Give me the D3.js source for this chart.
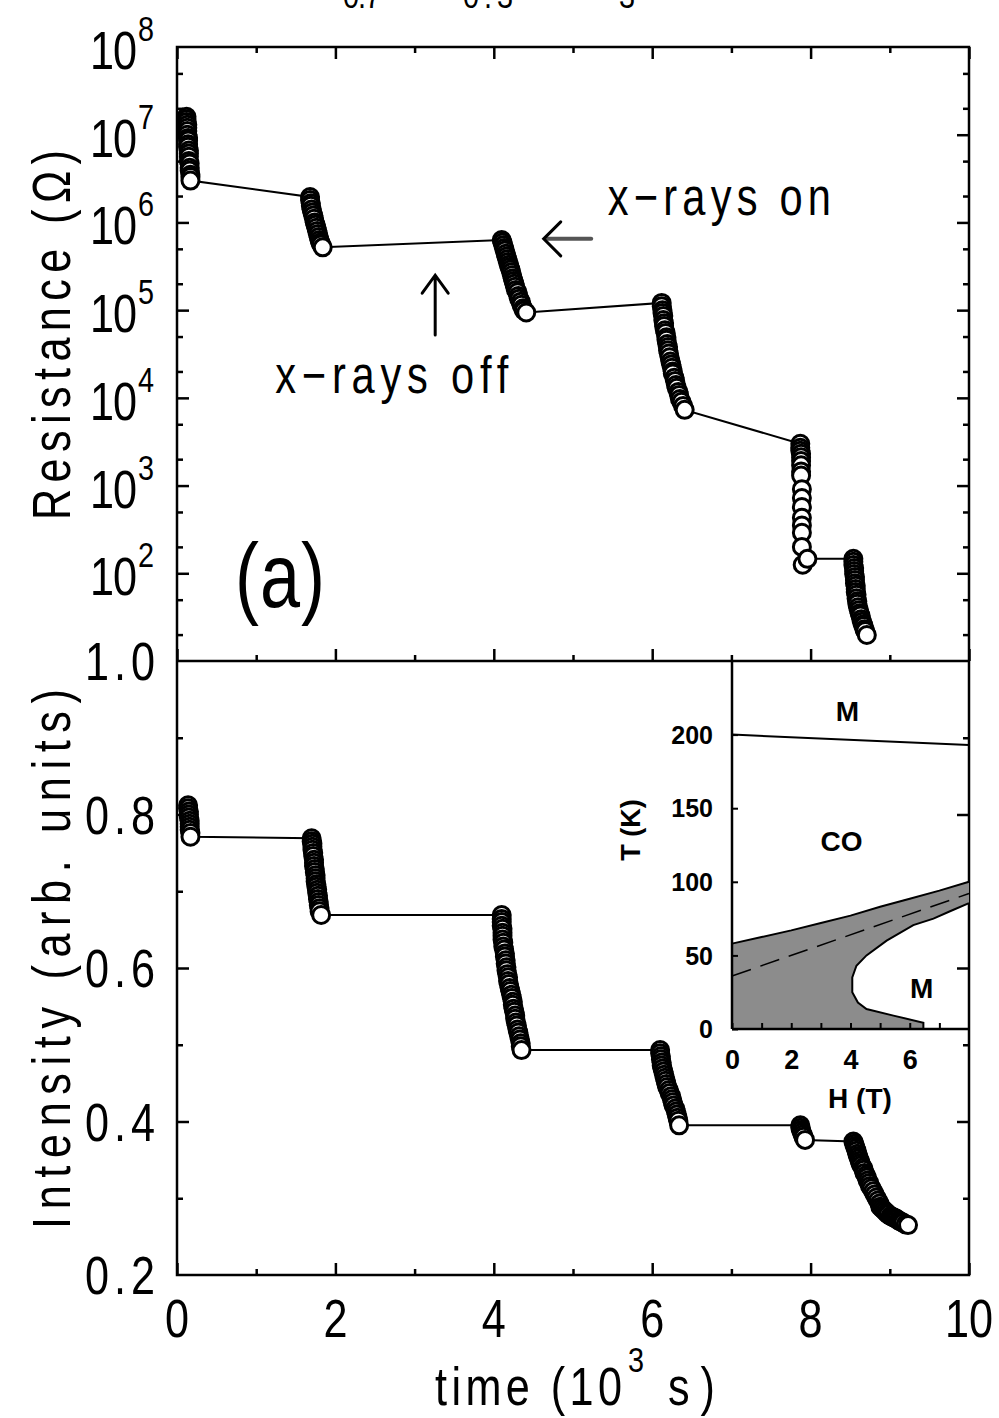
<!DOCTYPE html>
<html>
<head>
<meta charset="utf-8">
<script src="https://d3js.org/d3.v7.min.js"></script>
<style>
body { margin: 0; background: #fff; }
text { font-family: "Liberation Sans", Arial, sans-serif; fill: #000; }
</style>
</head>
<body>
<svg width="999" height="1418"></svg>
<script>

// resistance vs time (10^3 s, ohm)
const resTime = [
 0.12,0.12,0.12,0.13,0.13,0.13,0.13,0.14,0.14,0.14,0.14,0.15,0.15,0.15,0.15,0.16,0.16,0.16,0.17,0.17,0.17,
 1.68,1.68,1.69,1.69,1.70,1.71,1.72,1.73,1.74,1.75,1.76,1.77,1.78,1.79,1.80,1.81,1.82,1.84,
 4.10,4.11,4.12,4.13,4.14,4.15,4.16,4.17,4.18,4.19,4.20,4.21,4.22,4.23,4.24,4.25,4.26,4.27,4.28,4.30,4.31,4.32,4.34,4.35,4.37,4.38,4.41,
 6.12,6.12,6.13,6.13,6.14,6.14,6.15,6.15,6.16,6.17,6.18,6.18,6.19,6.20,6.20,6.21,6.22,6.23,6.24,6.25,6.26,6.26,6.28,6.29,6.30,6.31,6.33,6.34,6.35,6.37,6.39,6.41,
 7.87,7.87,7.87,7.88,7.88,7.88,7.88,7.88,7.88,7.89,7.89,7.89,7.89,7.89,7.89,7.89,7.90,7.96,
 8.54,8.54,8.54,8.55,8.55,8.55,8.56,8.56,8.56,8.57,8.57,8.57,8.58,8.58,8.59,8.59,8.60,8.61,8.62,8.63,8.64,8.65,8.66,8.67,8.68,8.69,8.71
];
const resOhm = [
 1.6e7,1.5e7,1.4e7,1.3e7,1.2e7,1.1e7,1.0e7,9.2e6,8.6e6,7.8e6,7.3e6,6.6e6,6.1e6,5.6e6,5.0e6,4.7e6,4.2e6,3.9e6,3.5e6,3.3e6,3.0e6,
 1.95e6,1.8e6,1.65e6,1.55e6,1.4e6,1.3e6,1.2e6,1.1e6,1.0e6,9.4e5,8.7e5,8.0e5,7.4e5,6.8e5,6.3e5,5.9e5,5.6e5,5.2e5,
 6.3e5,5.9e5,5.5e5,5.1e5,4.8e5,4.4e5,4.1e5,3.8e5,3.55e5,3.3e5,3.1e5,2.9e5,2.7e5,2.5e5,2.3e5,2.15e5,2.0e5,1.85e5,1.7e5,1.6e5,1.45e5,1.35e5,1.25e5,1.15e5,1.05e5,9.9e4,9.4e4,
 1.21e5,1.11e5,1.0e5,9.3e4,8.6e4,7.7e4,7.1e4,6.6e4,5.9e4,5.5e4,4.9e4,4.6e4,4.1e4,3.8e4,3.5e4,3.2e4,2.9e4,2.6e4,2.4e4,2.2e4,2.0e4,1.9e4,1.7e4,1.56e4,1.4e4,1.3e4,1.17e4,1.08e4,9.7e3,9.0e3,8.1e3,7.3e3,
 3.0e3,2.7e3,2.5e3,2.3e3,2.1e3,1.9e3,1.7e3,1.45e3,1.3e3,910,720,570,430,350,290,200,125,146,
 146,135,124,115,106,98,91,84,77,72,66,61,57,52,48,45,41,38,35,33,30,28,26,25,23,22,19.8
];

// x-ray intensity vs time (arb. units)
const intTime = [
 0.14,0.14,0.15,0.15,0.15,0.16,0.16,0.16,0.16,0.17,0.17,
 1.70,1.70,1.71,1.71,1.71,1.72,1.72,1.73,1.73,1.73,1.74,1.74,1.75,1.75,1.75,1.76,1.76,1.77,1.77,1.78,1.78,1.79,1.79,1.80,1.80,1.82,
 4.10,4.10,4.10,4.10,4.11,4.11,4.11,4.11,4.12,4.12,4.13,4.14,4.14,4.15,4.15,4.16,4.16,4.17,4.18,4.18,4.19,4.20,4.21,4.22,4.23,4.24,4.24,4.25,4.26,4.27,4.27,4.28,4.29,4.30,4.31,4.32,4.33,4.34,4.34,4.35,
 6.10,6.10,6.11,6.11,6.12,6.12,6.13,6.14,6.15,6.16,6.17,6.18,6.19,6.21,6.22,6.24,6.25,6.26,6.27,6.29,6.30,6.31,6.32,6.33,6.34,
 7.87,7.87,7.88,7.89,7.90,7.91,7.93,
 8.54,8.55,8.56,8.57,8.58,8.59,8.60,8.61,8.62,8.63,8.64,8.66,8.67,8.68,8.70,8.71,8.72,8.74,8.75,8.77,8.79,8.81,8.83,8.85,8.87,8.88,8.90,8.92,8.94,8.96,8.98,9.01,9.03,9.05,9.07,9.09,9.11,9.13,9.15,9.17,9.20,9.23
];
const intValue = [
 0.812,0.808,0.804,0.800,0.796,0.792,0.788,0.784,0.780,0.776,0.771,
 0.769,0.765,0.762,0.758,0.754,0.750,0.746,0.741,0.737,0.733,0.729,0.725,0.721,0.717,0.713,0.709,0.706,0.702,0.698,0.694,0.690,0.686,0.682,0.678,0.674,0.669,
 0.669,0.664,0.660,0.655,0.651,0.646,0.642,0.637,0.633,0.628,0.624,0.619,0.615,0.610,0.606,0.601,0.597,0.592,0.588,0.583,0.579,0.574,0.570,0.565,0.561,0.556,0.552,0.547,0.543,0.538,0.534,0.529,0.525,0.520,0.516,0.511,0.507,0.502,0.498,0.493,
 0.493,0.489,0.485,0.481,0.477,0.473,0.469,0.465,0.461,0.457,0.453,0.449,0.445,0.441,0.437,0.433,0.429,0.425,0.421,0.417,0.413,0.409,0.405,0.401,0.395,
 0.395,0.392,0.389,0.386,0.383,0.380,0.376,
 0.374,0.371,0.368,0.365,0.362,0.358,0.355,0.352,0.349,0.346,0.343,0.340,0.337,0.333,0.330,0.327,0.323,0.320,0.316,0.313,0.309,0.305,0.301,0.297,0.293,0.289,0.287,0.285,0.283,0.281,0.279,0.277,0.276,0.275,0.274,0.273,0.271,0.270,0.269,0.268,0.266,0.265
];

// inset phase diagram, H (T) vs T (K)
const topLineH = [0, 8], topLineT = [200, 193];
const upperH = [0, 1, 2, 3, 4, 5, 6, 7, 8];
const upperT = [58, 62.5, 67, 72, 77, 83, 88.5, 94, 100];
const lowerH = [8, 7.36, 6.8, 6.12, 5.22, 4.54, 4.2, 4.06, 4.06, 4.25, 4.54, 5.45, 6.46, 6.46];
const lowerT = [85.5, 80, 75, 70.6, 60, 50, 43, 35, 25, 18, 13.6, 9.1, 4.3, 0];
const dashH = [0, 8], dashT = [36, 92];
const insetLabels = [{t: 'M', h: 3.9, k: 216}, {t: 'CO', h: 3.7, k: 128}, {t: 'M', h: 6.4, k: 28}];

const xTicks = [0, 2, 4, 6, 8, 10];
const resTicks = [2, 3, 4, 5, 6, 7, 8];
const intTicks = [0.2, 0.4, 0.6, 0.8, 1.0];

const svg = d3.select('svg');

const x = d3.scaleLinear().domain([0, 10]).range([177, 969]);
const yR = d3.scaleLog().domain([10, 1e8]).range([661, 47]);
const yI = d3.scaleLinear().domain([0.2, 1.0]).range([1275, 661]);
const hx = d3.scaleLinear().domain([0, 8]).range([732, 969]);
const hy = d3.scaleLinear().domain([0, 250]).range([1029, 661]);

const SX = 0.8; // narrow lettering like the original plot
function ntext(px, py, size, str, anchor, len, rot) {
  const t = svg.append('text')
    .attr('transform', 'translate(' + px + ',' + py + ')' + (rot ? ' rotate(' + rot + ')' : '') + ' scale(' + SX + ',1)')
    .attr('font-size', size).attr('text-anchor', anchor || 'start').text(str);
  if (len) t.attr('textLength', len / SX).attr('lengthAdjust', 'spacing');
  return t;
}

function ticks(axis, scale, vals, size, tx, ty) {
  const g = svg.append('g').attr('transform', 'translate(' + tx + ',' + ty + ')')
    .call(axis(scale).tickValues(vals).tickSize(size).tickFormat(''));
  g.select('.domain').remove();
  g.selectAll('line').attr('stroke', '#000').attr('stroke-width', 2.5);
}

const evenT = [0, 2, 4, 6, 8, 10], oddT = [1, 3, 5, 7, 9];
[[d3.axisBottom, 47], [d3.axisTop, 661], [d3.axisTop, 1275]].forEach(function (a) {
  ticks(a[0], x, evenT, 12, 0, a[1]);
  ticks(a[0], x, oddT, 6, 0, a[1]);
});

const decades = [1e2, 1e3, 1e4, 1e5, 1e6, 1e7];
const minors = [];
[1e1, 1e2, 1e3, 1e4, 1e5, 1e6, 1e7].forEach(function (d) { minors.push(2 * d, 5 * d); });
const iMajor = [0.4, 0.6, 0.8], iMinor = [0.3, 0.5, 0.7, 0.9];
[[d3.axisRight, 177], [d3.axisLeft, 969]].forEach(function (a) {
  ticks(a[0], yR, decades, 12, a[1], 0);
  ticks(a[0], yR, minors, 6, a[1], 0);
  ticks(a[0], yI, iMajor, 12, a[1], 0);
  ticks(a[0], yI, iMinor, 6, a[1], 0);
});

// frame
const frame = svg.append('g').attr('stroke', '#000').attr('stroke-width', 2.5).attr('fill', 'none');
frame.append('rect').attr('x', x(0)).attr('y', yR(1e8)).attr('width', x(10) - x(0)).attr('height', yI(0.2) - yR(1e8));
frame.append('line').attr('x1', x(0)).attr('x2', x(10)).attr('y1', yI(1)).attr('y2', yI(1));

// inset
const inset = svg.append('g');
const hline = d3.line().x(d => hx(d[0])).y(d => hy(d[1]));
const polyPts = [[0, 0]].concat(upperH.map((h, i) => [h, upperT[i]]), lowerH.map((h, i) => [h, lowerT[i]]));
inset.append('path').attr('d', hline(polyPts) + 'Z').attr('fill', '#8c8c8c').attr('stroke', 'none');
inset.append('path').attr('d', hline(upperH.map((h, i) => [h, upperT[i]])))
  .attr('fill', 'none').attr('stroke', '#000').attr('stroke-width', 2);
inset.append('path').attr('d', hline(lowerH.map((h, i) => [h, lowerT[i]])))
  .attr('fill', 'none').attr('stroke', '#000').attr('stroke-width', 2);
inset.append('path').attr('d', hline(topLineH.map((h, i) => [h, topLineT[i]])))
  .attr('fill', 'none').attr('stroke', '#000').attr('stroke-width', 2);
inset.append('path').attr('d', hline(dashH.map((h, i) => [h, dashT[i]])))
  .attr('fill', 'none').attr('stroke', '#000').attr('stroke-width', 1.5).attr('stroke-dasharray', '20,10');

const ia = inset.append('g').attr('transform', 'translate(' + hx(0) + ',0)')
  .call(d3.axisLeft(hy).tickValues([0, 50, 100, 150, 200]).tickSize(-6).tickPadding(19));
ia.select('.domain').remove();
ia.selectAll('line').attr('stroke-width', 2);
ia.selectAll('text').attr('font-size', 25).attr('font-family', 'Liberation Sans, sans-serif').attr('font-weight', 'bold').attr('dy', '0.35em');
const ib = inset.append('g').attr('transform', 'translate(0,' + hy(0) + ')')
  .call(d3.axisBottom(hx).tickValues([0, 1, 2, 3, 4, 5, 6, 7]).tickSize(-6).tickPadding(21)
    .tickFormat(d => d % 2 === 0 ? d : ''));
ib.select('.domain').remove();
ib.selectAll('line').attr('stroke-width', 2);
ib.selectAll('text').attr('font-size', 27).attr('font-family', 'Liberation Sans, sans-serif').attr('font-weight', 'bold');
inset.append('line').attr('x1', hx(0)).attr('x2', hx(0)).attr('y1', hy(0)).attr('y2', hy(250)).attr('stroke', '#000').attr('stroke-width', 2.5);
inset.append('line').attr('x1', hx(0)).attr('x2', hx(8)).attr('y1', hy(0)).attr('y2', hy(0)).attr('stroke', '#000').attr('stroke-width', 2.5);
inset.selectAll('text.lab').data(insetLabels).enter().append('text').attr('class', 'lab')
  .attr('x', d => hx(d.h)).attr('y', d => hy(d.k) + 10).attr('text-anchor', 'middle')
  .attr('font-size', 28).attr('font-weight', 'bold').text(d => d.t);
inset.append('text').attr('x', 860).attr('y', 1108).attr('text-anchor', 'middle')
  .attr('font-size', 28).attr('font-weight', 'bold').text('H (T)');
inset.append('text').attr('transform', 'translate(640,830) rotate(-90)').attr('text-anchor', 'middle')
  .attr('font-size', 27).attr('font-weight', 'bold').text('T (K)');

// data lines and circles
const resPts = resTime.map((t, i) => [t, resOhm[i]]);
const intPts = intTime.map((t, i) => [t, intValue[i]]);
svg.append('path').attr('d', d3.line().x(d => x(d[0])).y(d => yR(d[1]))(resPts))
  .attr('fill', 'none').attr('stroke', '#000').attr('stroke-width', 2);
svg.append('path').attr('d', d3.line().x(d => x(d[0])).y(d => yI(d[1]))(intPts))
  .attr('fill', 'none').attr('stroke', '#000').attr('stroke-width', 2);
svg.append('g').selectAll('circle').data(resPts).enter().append('circle')
  .attr('cx', d => x(d[0])).attr('cy', d => yR(d[1])).attr('r', 8.5)
  .attr('fill', '#fff').attr('stroke', '#000').attr('stroke-width', 3);
svg.append('g').selectAll('circle').data(intPts).enter().append('circle')
  .attr('cx', d => x(d[0])).attr('cy', d => yI(d[1])).attr('r', 8.5)
  .attr('fill', '#fff').attr('stroke', '#000').attr('stroke-width', 3);

// tick labels
resTicks.forEach(function (p) {
  ntext(137, yR(Math.pow(10, p)) + 22, 54, '10', 'end', 47);
  ntext(138, yR(Math.pow(10, p)) - 6, 36, String(p), 'start');
});
intTicks.forEach(function (v) {
  ntext(155, yI(v) + 19, 54, v.toFixed(1), 'end', 70);
});
xTicks.forEach(function (v) {
  ntext(x(v), 1337, 54, String(v), 'middle');
});

// axis titles
ntext(435, 1405, 54, 'time (10', 'start', 187);
ntext(628, 1372, 36, '3', 'start');
ntext(668, 1405, 54, 's)', 'start', 47);
ntext(70, 335, 54, 'Resistance (\u03A9)', 'middle', 370, -90);
ntext(70, 959, 54, 'Intensity (arb. units)', 'middle', 540, -90);

// clipped compound title at the very top
[['0.7', 362, 38], ['0.3', 488, 50], ['3', 627, 0]].forEach(function (s) {
  ntext(s[1], 8, 36, s[0], 'middle', s[2] || null);
});

// panel label and annotations
ntext(235, 607, 90, '(a)', 'start', 90);
ntext(x(5.44), yR(1.22e6), 52, 'x\u2212rays  on', 'start', 223);
ntext(x(1.24), yR(1.14e4), 52, 'x\u2212rays  off', 'start', 233);

const arr = svg.append('g').attr('fill', 'none').attr('stroke-linecap', 'round');
arr.append('path').attr('stroke', '#000').attr('stroke-width', 3)
  .attr('d', 'M' + x(3.26) + ',' + yR(5.2e4) + 'V' + yR(2.5e5)
    + 'M' + (x(3.26) - 13) + ',' + (yR(2.5e5) + 18) + 'L' + x(3.26) + ',' + yR(2.5e5)
    + 'L' + (x(3.26) + 13) + ',' + (yR(2.5e5) + 18));
arr.append('path').attr('stroke', '#555').attr('stroke-width', 4)
  .attr('d', 'M' + x(5.23) + ',' + yR(6.5e5) + 'H' + (x(4.63) + 4));
arr.append('path').attr('stroke', '#000').attr('stroke-width', 3)
  .attr('d', 'M' + (x(4.63) + 17) + ',' + (yR(6.5e5) - 17) + 'L' + x(4.63) + ',' + yR(6.5e5)
    + 'L' + (x(4.63) + 17) + ',' + (yR(6.5e5) + 17));

</script>
</body>
</html>
